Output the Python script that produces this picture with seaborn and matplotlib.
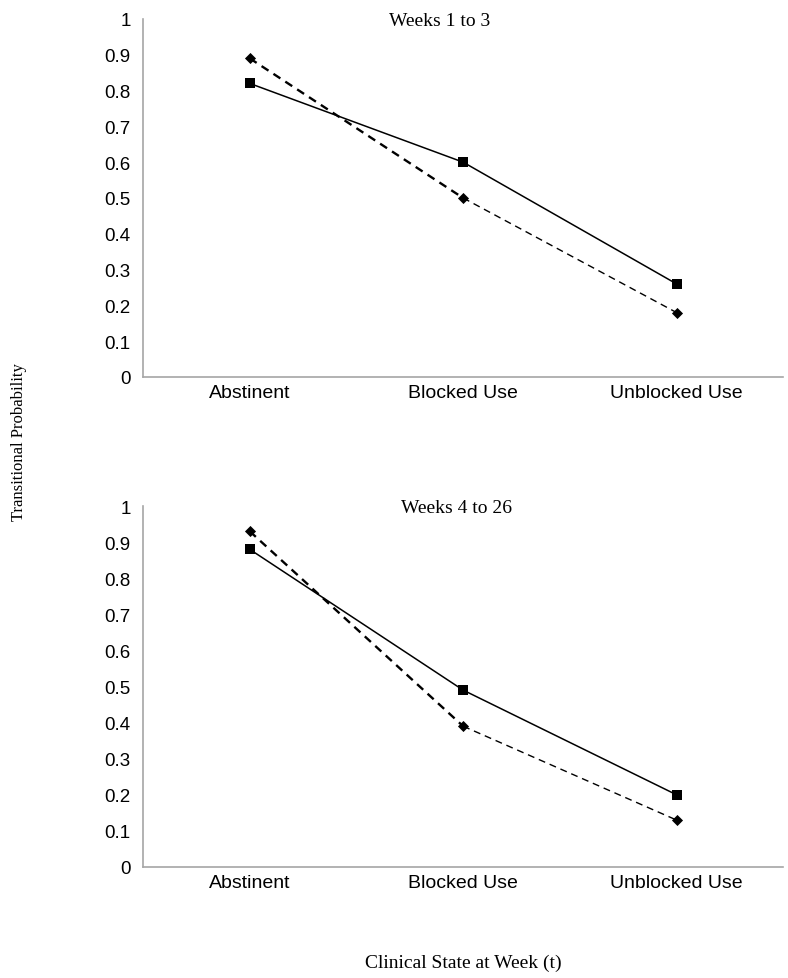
import numpy as np
import pandas as pd
import matplotlib
matplotlib.use("Agg")
import matplotlib.pyplot as plt
import seaborn as sns

categories = ["Abstinent", "Blocked Use", "Unblocked Use"]
panel_titles = ["Weeks 1 to 3", "Weeks 4 to 26"]
solid_w1_3 = [0.82, 0.60, 0.26]
dashed_w1_3 = [0.89, 0.50, 0.18]
solid_w4_26 = [0.88, 0.49, 0.20]
dashed_w4_26 = [0.93, 0.39, 0.13]
ytick_values = [0, 0.1, 0.2, 0.3, 0.4, 0.5, 0.6, 0.7, 0.8, 0.9, 1]
ytick_labels = ["0", "0.1", "0.2", "0.3", "0.4", "0.5", "0.6", "0.7", "0.8", "0.9", "1"]
y_label = "Transitional Probability"
x_label = "Clinical State at Week (t)"

sns.set_style("white")
plt.rcParams["font.family"] = ["Liberation Sans", "DejaVu Sans"]
plt.rcParams["text.color"] = "black"
plt.rcParams["xtick.labelcolor"] = "black"
plt.rcParams["ytick.labelcolor"] = "black"

SERIF = ["Liberation Serif", "DejaVu Serif"]
SPINE = "#a6a6a6"

fig = plt.figure(figsize=(7.88, 9.79), dpi=100)
ax1 = fig.add_axes([0.1815, 0.6139, 0.8125, 0.3657])
ax2 = fig.add_axes([0.1815, 0.1134, 0.8125, 0.3687])


def draw(ax, solid, dashed, title, tx):
    df = pd.DataFrame({"x": np.arange(len(categories)), "solid": solid, "dashed": dashed})
    sns.lineplot(data=df, x="x", y="solid", ax=ax, color="black", lw=1.1,
                 marker="s", markersize=7, markeredgewidth=0, legend=False)
    seg1 = df.iloc[0:2]
    seg2 = df.iloc[1:3]
    sns.lineplot(data=seg1, x="x", y="dashed", ax=ax, color="black", lw=1.7,
                 legend=False)
    ax.lines[-1].set_dashes([3.5, 2.5])
    sns.lineplot(data=seg2, x="x", y="dashed", ax=ax, color="black", lw=1.0,
                 legend=False)
    ax.lines[-1].set_dashes([5, 3.5])
    sns.scatterplot(data=df, x="x", y="dashed", ax=ax, color="black", marker="D",
                    s=32, linewidth=0, legend=False, zorder=5)

    ax.set_xlim(-0.5, 2.5)
    ax.set_ylim(0, 1)
    ax.set_yticks(ytick_values)
    ax.set_yticklabels(ytick_labels, fontsize=13.5, color="black")
    ax.set_xticks([-0.5, 0.5, 1.5])
    ax.set_xticklabels([])
    ax.set_xticks([0, 1, 2], minor=True)
    ax.set_xticklabels(categories, minor=True, fontsize=14, color="black")
    ax.tick_params(axis="x", which="minor", length=0, pad=5)
    ax.tick_params(axis="x", which="major", direction="out", length=5, color=SPINE, width=1)
    ax.tick_params(axis="y", direction="out", length=5, color=SPINE, width=1, pad=4)
    for s in ["top", "right"]:
        ax.spines[s].set_visible(False)
    for s in ["left", "bottom"]:
        ax.spines[s].set_color(SPINE)
        ax.spines[s].set_linewidth(1.2)
    ax.set_xlabel("")
    ax.set_ylabel("")
    ax.grid(False)
    ax.text(tx, 0.995, title, transform=ax.transAxes, ha="center", va="center",
            fontsize=14, family=SERIF, color="black")


draw(ax1, solid_w1_3, dashed_w1_3, panel_titles[0], 0.4625)
draw(ax2, solid_w4_26, dashed_w4_26, panel_titles[1], 0.489)

fig.text(19 / 788, 1 - 442 / 979, y_label, rotation=90, ha="center", va="center",
         fontsize=12, family=SERIF, color="black")
fig.text(463 / 788, 1 - 963 / 979, x_label, ha="center", va="center",
         fontsize=14, family=SERIF, color="black")

fig.savefig("out.png", dpi=100)
